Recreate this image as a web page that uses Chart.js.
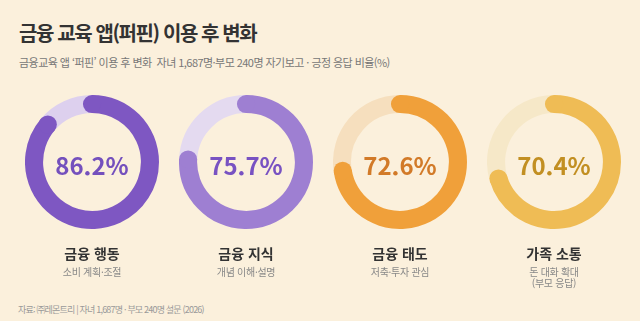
<!DOCTYPE html>
<html lang="ko">
<head>
<meta charset="utf-8">
<script src="https://cdn.jsdelivr.net/npm/chart.js@4.4.1/dist/chart.umd.min.js"></script>
<style>
  body { margin: 0; width: 640px; height: 321px; background: #fbf0dc; font-family: "Noto Sans CJK KR", "Noto Sans", sans-serif; position: relative; overflow: hidden; }
  .titre { position: absolute; left: 19px; top: 18px; font-size: 20px; font-weight: 700; color: #333; letter-spacing: -1.4px; }
  .sous-titre { position: absolute; left: 19px; top: 54px; font-size: 11px; color: #777; letter-spacing: -0.55px; }
  .source { position: absolute; left: 18px; top: 303px; font-size: 9px; color: #999; letter-spacing: -0.8px; }
  .anneau { position: absolute; width: 134px; height: 134px; }
  .valeur { position: absolute; width: 154px; text-align: center; font-size: 24px; font-weight: 700; top: 147px; }
  .nom { position: absolute; width: 154px; text-align: center; font-size: 14px; font-weight: 700; color: #333; top: 243px; }
  .detail { position: absolute; width: 154px; text-align: center; font-size: 10px; color: #888; top: 266px; line-height: 11px; letter-spacing: -0.3px; }
</style>
</head>
<body>
<div class="titre">금융 교육 앱(퍼핀) 이용 후 변화</div>
<div class="sous-titre">금융교육 앱 ‘퍼핀’ 이용 후 변화&nbsp; 자녀 1,687명·부모 240명 자기보고 · 긍정 응답 비율(%)</div>
<div class="source">자료: ㈜레몬트리 | 자녀 1,687명 · 부모 240명 설문 (2026)</div>

<script>
// données du graphique
const categories = ["금융 행동", "금융 지식", "금융 태도", "가족 소통"];
const details = [["소비 계획·조절"], ["개념 이해·설명"], ["저축·투자 관심"], ["돈 대화 확대", "(부모 응답)"]];
const valeurs = [86.2, 75.7, 72.6, 70.4];
const couleurs = ["#7e57c2", "#9e7fd2", "#f0a03a", "#efbc55"];
const couleursFond = ["#ddd0ee", "#e4daf0", "#f6dfbe", "#f6e8c8"];
const couleursTexte = ["#7450bd", "#7852c2", "#d27a28", "#c28f22"];

// extrémités arrondies de l'arc
const bouts = {
    id: "bouts",
    afterDatasetsDraw(chart) {
        const arc = chart.getDatasetMeta(0).data[0];
        const ctx = chart.ctx;
        const r = (arc.outerRadius + arc.innerRadius) / 2;
        const e = (arc.outerRadius - arc.innerRadius) / 2;
        ctx.save();
        ctx.fillStyle = arc.options.backgroundColor;
        for (const a of [arc.startAngle, arc.endAngle]) {
            ctx.beginPath();
            ctx.arc(arc.x + r * Math.cos(a), arc.y + r * Math.sin(a), e, 0, Math.PI * 2);
            ctx.fill();
        }
        ctx.restore();
    }
};

for (let i = 0; i < categories.length; i++) {
    const cx = 92 + 154 * i;

    const boite = document.createElement("div");
    boite.className = "anneau";
    boite.style.left = (cx - 67) + "px";
    boite.style.top = "95px";
    const canvas = document.createElement("canvas");
    boite.appendChild(canvas);
    document.body.appendChild(boite);

    const valeur = document.createElement("div");
    valeur.className = "valeur";
    valeur.style.left = (cx - 77) + "px";
    valeur.style.color = couleursTexte[i];
    valeur.textContent = valeurs[i] + "%";
    document.body.appendChild(valeur);

    const nom = document.createElement("div");
    nom.className = "nom";
    nom.style.left = (cx - 77) + "px";
    nom.textContent = categories[i];
    document.body.appendChild(nom);

    const detail = document.createElement("div");
    detail.className = "detail";
    detail.style.left = (cx - 77) + "px";
    detail.innerHTML = details[i].join("<br>");
    document.body.appendChild(detail);

    new Chart(canvas, {
        type: "doughnut",
        data: {
            labels: [categories[i], ""],
            datasets: [{
                data: [valeurs[i], 100 - valeurs[i]],
                backgroundColor: [couleurs[i], couleursFond[i]],
                borderWidth: 0
            }]
        },
        options: {
            responsive: true,
            maintainAspectRatio: false,
            animation: false,
            cutout: "73%",
            plugins: { legend: { display: false }, tooltip: { enabled: false } }
        },
        plugins: [bouts]
    });
}
</script>
</body>
</html>
